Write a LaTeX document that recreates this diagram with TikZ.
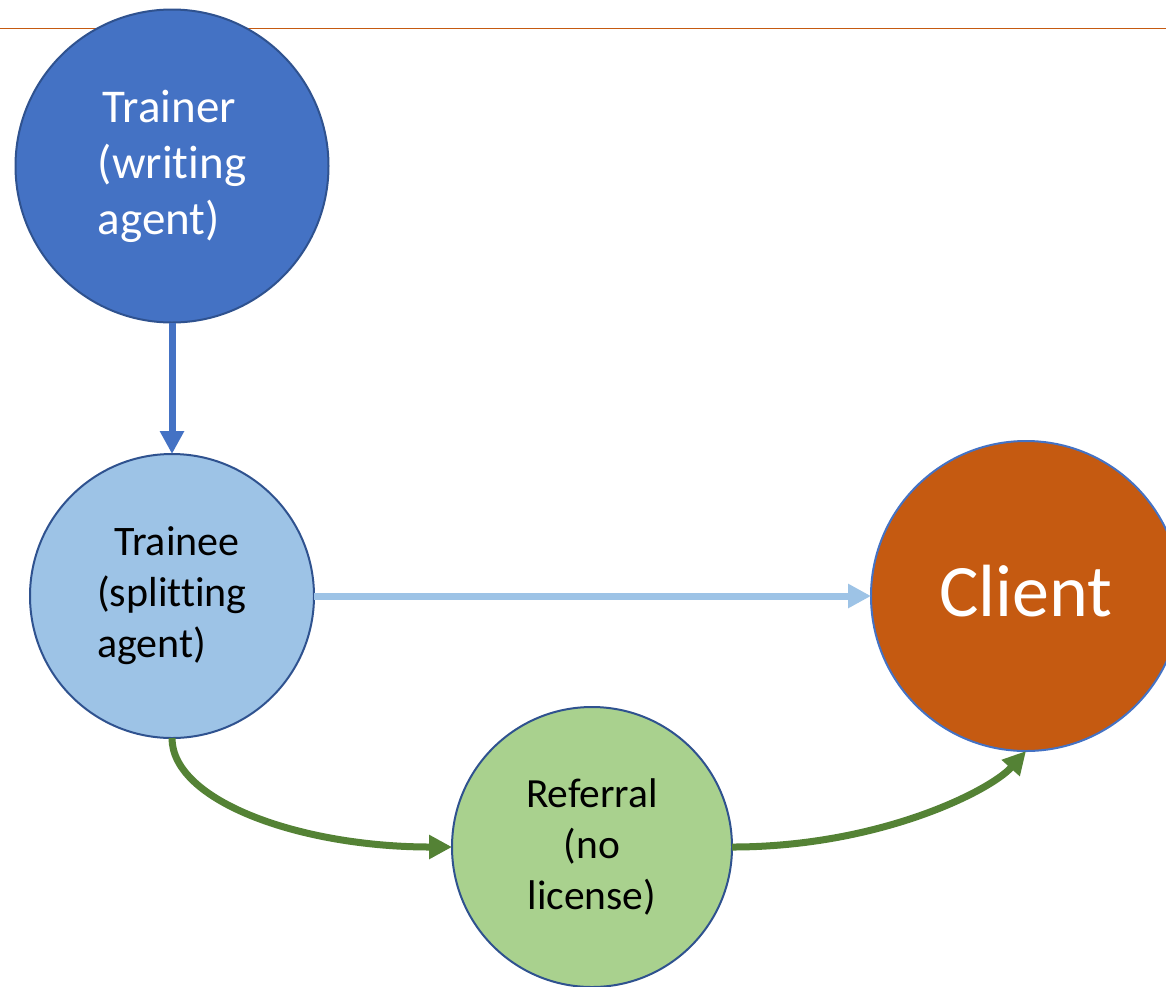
\documentclass[tikz,border=0pt]{standalone}
\usepackage{fontspec}
\setmainfont{Carlito}[Ligatures=NoCommon]
\usetikzlibrary{arrows.meta}
\definecolor{pblue}{HTML}{4472C4}
\definecolor{pdark}{HTML}{2F528F}
\definecolor{plight}{HTML}{9DC3E6}
\definecolor{pgreen}{HTML}{A9D18E}
\definecolor{pdgreen}{HTML}{548235}
\definecolor{porange}{HTML}{C55A11}
\tikzset{
  ball/.style={circle, draw=pdark, line width=2pt, inner sep=0pt, outer sep=0pt},
  conn/.style={line width=7pt, -{Triangle[length=23pt,width=23pt]}},
  topline/.style={draw=porange, line width=1.5pt},
}
\begin{document}
\begin{tikzpicture}[x=1pt,y=-1pt]
\clip (0,0) rectangle (1166,986);
\fill[white] (0,0) rectangle (1166,986);
\draw[topline] (0,28.5) -- (1166,28.5);
\node[ball, fill=pblue, minimum size=313pt, text=white, align=left,
      font=\fontsize{47}{56}\selectfont] (trainer) at (172,166)
      {\hspace*{5pt}Trainer\\(writing\\agent)};
\node[ball, fill=plight, minimum size=284pt, text=black, align=left,
      font=\fontsize{42}{51}\selectfont] (trainee) at (172,596)
      {\hspace*{17pt}Trainee\\(splitting\\agent)};
\node[ball, fill=pgreen, minimum size=280pt, text=black, align=center,
      font=\fontsize{41.5}{51}\selectfont] (referral) at (592,847)
      {Referral\\(no\\license)};
\node[ball, draw=pblue, fill=porange, minimum size=310pt, text=white] (client) at (1026,596) {};
\node[text=white, font=\fontsize{74}{90}\selectfont, anchor=base] (clientlbl) at (1026,616) {Client};
\draw[conn, pblue] (trainer.south) -- (trainee.north);
\draw[conn, plight] (trainee.east) -- (client.west);
\draw[conn, pdgreen] (trainee.south) .. controls +(0,63) and +(-152,0) .. (referral.west);
\draw[conn, pdgreen] (referral.east) .. controls +(147,0) and +(-36,40) .. (client.south);
\end{tikzpicture}
\end{document}
